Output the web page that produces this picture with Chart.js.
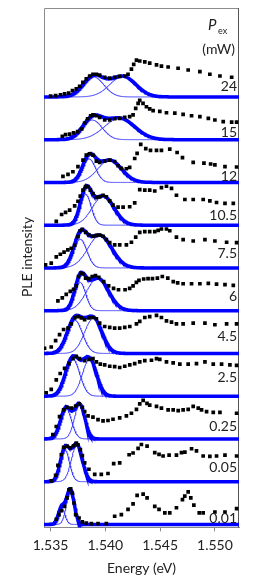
<!DOCTYPE html>
<html>
<head>
<meta charset="utf-8">
<script src="https://cdn.jsdelivr.net/npm/chart.js@4.4.1/dist/chart.umd.min.js"></script>
<style>
  html, body { margin: 0; padding: 0; background: #fff; }
  #wrap { width: 273px; height: 584px; }
</style>
</head>
<body>
<div id="wrap"><canvas id="pleChart" width="273" height="584"></canvas></div>
<script>
// excitation powers (mW), top panel first
const powers = ['24', '15', '12', '10.5', '7.5', '6', '4.5', '2.5', '0.25', '0.05', '0.01'];
const energyTicks = [1.535, 1.540, 1.545, 1.550];

// measured PLE spectra, one pair of arrays per panel (energy in eV, normalised intensity)
const p24Energy = [1.5350, 1.53546, 1.53591, 1.53628, 1.53665, 1.5370, 1.53735, 1.53765, 1.53795, 1.53826, 1.53857, 1.53887, 1.53918, 1.53948, 1.53994, 1.5404, 1.54085, 1.54131, 1.54177, 1.54207, 1.54238, 1.54259, 1.54284, 1.54314, 1.5436, 1.54405, 1.54467, 1.54512, 1.54573, 1.54664, 1.54756, 1.54863, 1.54954, 1.55046, 1.55153];
const p24Ple = [0.02, 0.03, 0.05, 0.07, 0.09, 0.15, 0.19, 0.25, 0.34, 0.42, 0.49, 0.53, 0.53, 0.51, 0.46, 0.44, 0.46, 0.48, 0.49, 0.53, 0.65, 0.76, 0.86, 0.84, 0.82, 0.79, 0.75, 0.72, 0.70, 0.67, 0.63, 0.59, 0.53, 0.49, 0.46];

const p15Energy = [1.53607, 1.53637, 1.53674, 1.5371, 1.53747, 1.53784, 1.53811, 1.53838, 1.53866, 1.53887, 1.53918, 1.53948, 1.53994, 1.5404, 1.54085, 1.54131, 1.54177, 1.54222, 1.54253, 1.54277, 1.54299, 1.54314, 1.54344, 1.54375, 1.54405, 1.54436, 1.54497, 1.54558, 1.54634, 1.5471, 1.54787, 1.54863, 1.5494, 1.55, 1.55076, 1.55153, 1.55198];
const p15Ple = [0.08, 0.12, 0.13, 0.16, 0.19, 0.25, 0.39, 0.49, 0.56, 0.58, 0.56, 0.52, 0.46, 0.46, 0.49, 0.50, 0.52, 0.54, 0.58, 0.73, 0.85, 0.92, 0.85, 0.77, 0.72, 0.68, 0.66, 0.63, 0.62, 0.59, 0.56, 0.54, 0.50, 0.46, 0.42, 0.41, 0.41];

const p12Energy = [1.53613, 1.53659, 1.53704, 1.5375, 1.53796, 1.53826, 1.53857, 1.53887, 1.53918, 1.53948, 1.53994, 1.5404, 1.54085, 1.54116, 1.54146, 1.54192, 1.54222, 1.54268, 1.5429, 1.54323, 1.54369, 1.54412, 1.54467, 1.54512, 1.54588, 1.54655, 1.54704, 1.54802, 1.549, 1.54961, 1.55, 1.55092, 1.55198];
const p12Ple = [0.14, 0.19, 0.25, 0.37, 0.52, 0.64, 0.67, 0.64, 0.50, 0.47, 0.50, 0.52, 0.49, 0.39, 0.33, 0.32, 0.35, 0.56, 0.68, 0.89, 0.79, 0.75, 0.75, 0.75, 0.78, 0.70, 0.58, 0.47, 0.45, 0.43, 0.41, 0.37, 0.36];

const p105Energy = [1.53552, 1.53601, 1.53637, 1.53674, 1.5372, 1.5375, 1.53771, 1.53796, 1.5382, 1.53841, 1.53863, 1.53887, 1.53918, 1.53948, 1.53979, 1.54009, 1.5404, 1.5407, 1.54116, 1.54162, 1.54222, 1.54268, 1.54314, 1.5436, 1.54405, 1.54451, 1.54512, 1.54558, 1.54604, 1.54649, 1.54726, 1.54802, 1.54893, 1.54954, 1.55015, 1.55092, 1.55168];
const p105Ple = [0.09, 0.25, 0.30, 0.35, 0.45, 0.56, 0.68, 0.82, 0.90, 0.90, 0.82, 0.74, 0.65, 0.66, 0.70, 0.66, 0.57, 0.47, 0.42, 0.42, 0.43, 0.52, 0.83, 0.82, 0.82, 0.80, 0.88, 0.91, 0.86, 0.70, 0.60, 0.60, 0.60, 0.57, 0.53, 0.51, 0.51];

const p75Energy = [1.53454, 1.53506, 1.53552, 1.53589, 1.53623, 1.53658, 1.53689, 1.5372, 1.5375, 1.53771, 1.5379, 1.5382, 1.5385, 1.53887, 1.53918, 1.53948, 1.53979, 1.54009, 1.5404, 1.54085, 1.54131, 1.54192, 1.54238, 1.54277, 1.54314, 1.5436, 1.54405, 1.54451, 1.54482, 1.54512, 1.54558, 1.54588, 1.54649, 1.5471, 1.54802, 1.54909, 1.55, 1.55107, 1.55198];
const p75Ple = [0.07, 0.11, 0.26, 0.32, 0.37, 0.42, 0.46, 0.53, 0.73, 0.87, 0.90, 0.83, 0.77, 0.74, 0.76, 0.77, 0.74, 0.66, 0.59, 0.54, 0.54, 0.54, 0.60, 0.72, 0.83, 0.85, 0.85, 0.85, 0.88, 0.91, 0.91, 0.87, 0.72, 0.66, 0.63, 0.66, 0.63, 0.60, 0.59];

const p6Energy = [1.53567, 1.53607, 1.53643, 1.5368, 1.5371, 1.53735, 1.53755, 1.53775, 1.53795, 1.5382, 1.5385, 1.5388, 1.5391, 1.5394, 1.53985, 1.5403, 1.54075, 1.5412, 1.5418, 1.54222, 1.54253, 1.54283, 1.54307, 1.5435, 1.5439, 1.5443, 1.54475, 1.5452, 1.5457, 1.5462, 1.5466, 1.5471, 1.54787, 1.54863, 1.5494, 1.55015, 1.55092, 1.55168];
const p6Ple = [0.23, 0.30, 0.38, 0.45, 0.50, 0.58, 0.80, 0.88, 0.86, 0.76, 0.75, 0.80, 0.82, 0.78, 0.68, 0.58, 0.52, 0.49, 0.49, 0.52, 0.58, 0.66, 0.71, 0.74, 0.75, 0.75, 0.76, 0.80, 0.76, 0.68, 0.65, 0.63, 0.63, 0.63, 0.64, 0.62, 0.61, 0.59];

const p45Energy = [1.53445, 1.53506, 1.53546, 1.53582, 1.53619, 1.53659, 1.53689, 1.5372, 1.5375, 1.53781, 1.53811, 1.53851, 1.53887, 1.53918, 1.53948, 1.53994, 1.5404, 1.54085, 1.54131, 1.54177, 1.54223, 1.54284, 1.54314, 1.5436, 1.54405, 1.54467, 1.54512, 1.54558, 1.54604, 1.54649, 1.5471, 1.54802, 1.54909, 1.55, 1.55107, 1.55198];
const p45Ple = [0.12, 0.15, 0.30, 0.44, 0.56, 0.59, 0.69, 0.83, 0.86, 0.83, 0.79, 0.83, 0.84, 0.81, 0.71, 0.63, 0.61, 0.59, 0.59, 0.61, 0.63, 0.69, 0.75, 0.84, 0.86, 0.89, 0.84, 0.76, 0.73, 0.69, 0.69, 0.71, 0.71, 0.67, 0.69, 0.69];

const p25Energy = [1.5346, 1.53506, 1.53552, 1.53588, 1.53628, 1.53668, 1.53704, 1.53735, 1.53765, 1.53811, 1.53851, 1.53887, 1.53918, 1.53954, 1.53994, 1.5404, 1.54085, 1.54131, 1.54177, 1.54223, 1.54268, 1.54314, 1.5436, 1.54421, 1.54467, 1.54497, 1.54558, 1.54619, 1.5468, 1.54756, 1.54832, 1.54909, 1.54985, 1.55061, 1.55137, 1.55198];
const p25Ple = [0.08, 0.16, 0.38, 0.53, 0.65, 0.76, 0.88, 0.93, 0.88, 0.83, 0.86, 0.88, 0.80, 0.75, 0.73, 0.70, 0.69, 0.67, 0.70, 0.73, 0.76, 0.80, 0.83, 0.84, 0.88, 0.86, 0.80, 0.78, 0.75, 0.75, 0.76, 0.80, 0.75, 0.75, 0.73, 0.72];

const p025Energy = [1.53521, 1.53552, 1.53582, 1.53619, 1.5365, 1.53689, 1.53729, 1.5376, 1.5379, 1.53811, 1.53842, 1.53887, 1.53933, 1.53979, 1.54024, 1.5407, 1.54131, 1.54192, 1.54238, 1.54284, 1.54314, 1.54345, 1.5438, 1.54405, 1.54467, 1.54512, 1.54573, 1.54619, 1.54665, 1.5471, 1.54756, 1.54802, 1.54848, 1.54878, 1.54924, 1.54985, 1.55046, 1.55198];
const p025Ple = [0.10, 0.29, 0.52, 0.68, 0.74, 0.72, 0.77, 0.82, 0.74, 0.64, 0.54, 0.51, 0.45, 0.42, 0.43, 0.46, 0.49, 0.54, 0.60, 0.69, 0.82, 0.90, 0.83, 0.79, 0.76, 0.72, 0.68, 0.68, 0.66, 0.68, 0.69, 0.76, 0.72, 0.68, 0.64, 0.62, 0.62, 0.60];

const p005Energy = [1.53506, 1.53546, 1.53567, 1.53598, 1.53619, 1.5365, 1.5368, 1.5371, 1.53735, 1.5375, 1.53772, 1.5379, 1.53811, 1.5385, 1.53903, 1.53963, 1.54024, 1.54076, 1.54131, 1.54217, 1.54253, 1.54299, 1.54329, 1.54381, 1.54451, 1.5449, 1.54527, 1.54582, 1.54649, 1.54695, 1.54726, 1.54787, 1.54832, 1.54893, 1.54954, 1.55015, 1.55092, 1.55198];
const p005Ple = [0.02, 0.15, 0.38, 0.63, 0.80, 0.83, 0.79, 0.84, 0.90, 0.86, 0.75, 0.61, 0.44, 0.29, 0.17, 0.17, 0.19, 0.42, 0.44, 0.63, 0.67, 0.78, 0.87, 0.83, 0.68, 0.64, 0.60, 0.62, 0.62, 0.68, 0.69, 0.77, 0.72, 0.60, 0.59, 0.60, 0.62, 0.60];

const p001Energy = [1.53552, 1.53576, 1.53598, 1.53628, 1.5365, 1.53668, 1.53683, 1.53698, 1.53714, 1.53729, 1.5376, 1.5379, 1.53826, 1.53872, 1.53933, 1.54009, 1.54085, 1.54146, 1.54207, 1.54253, 1.5429, 1.54345, 1.54381, 1.54451, 1.5449, 1.54543, 1.54588, 1.54649, 1.54704, 1.54725, 1.54756, 1.5478, 1.54808, 1.54857, 1.54893, 1.5500, 1.55092, 1.55198];
const p001Ple = [0.12, 0.23, 0.32, 0.42, 0.62, 0.81, 0.83, 0.73, 0.50, 0.23, 0.15, 0.06, 0.03, 0.02, 0.02, 0.02, 0.19, 0.23, 0.35, 0.48, 0.68, 0.71, 0.62, 0.42, 0.35, 0.27, 0.27, 0.39, 0.58, 0.66, 0.76, 0.62, 0.45, 0.27, 0.27, 0.29, 0.29, 0.37];

// two-gaussian fit per panel (same order as powers): centre (eV), sigma (eV), height
const fit1Center = [1.5389, 1.5388, 1.5385, 1.5382, 1.5377, 1.5377, 1.5372, 1.5370, 1.5364, 1.5363, 1.5360];
const fit1Sigma = [0.00095, 0.0009, 0.0006, 0.0005, 0.0006, 0.0005, 0.0007, 0.00065, 0.0005, 0.00042, 0.0003];
const fit1Height = [0.47, 0.46, 0.55, 0.72, 0.67, 0.66, 0.78, 0.88, 0.72, 0.75, 0.38];
const fit2Center = [1.5416, 1.5413, 1.5404, 1.5398, 1.5395, 1.5393, 1.5389, 1.53855, 1.53765, 1.5374, 1.5368];
const fit2Sigma = [0.0012, 0.0014, 0.0011, 0.0010, 0.0011, 0.0010, 0.0008, 0.00065, 0.00048, 0.0005, 0.00035];
const fit2Height = [0.48, 0.50, 0.52, 0.68, 0.76, 0.76, 0.82, 0.86, 0.80, 0.86, 0.82];

// ---- layout (not data) ----
const xMin = 1.5344, xMax = 1.5522;
const labelRaise = [10, 7, 6, 10, 14, 14, 17, 19, 12, 14, 6]; // px above baseline
const FONT = 'Lato, "Open Sans", sans-serif';

const measured = [
    [p24Energy, p24Ple], [p15Energy, p15Ple], [p12Energy, p12Ple], [p105Energy, p105Ple],
    [p75Energy, p75Ple], [p6Energy, p6Ple], [p45Energy, p45Ple], [p25Energy, p25Ple],
    [p025Energy, p025Ple], [p005Energy, p005Ple], [p001Energy, p001Ple]
];

function gauss(e, c, s, a) {
    return a * Math.exp(-0.5 * Math.pow((e - c) / s, 2));
}

// energies at which the fit curves are evaluated
const fitGrid = [];
for (let e = xMin; e <= xMax + 1e-9; e += 0.00004) fitGrid.push(e);

const datasets = [];
powers.forEach((p, k) => {
    const base = powers.length - 1 - k; // vertical offset of this panel

    const comp1 = fitGrid.map(e => ({ x: e, y: base + gauss(e, fit1Center[k], fit1Sigma[k], fit1Height[k]) }));
    const comp2 = fitGrid.map(e => ({ x: e, y: base + gauss(e, fit2Center[k], fit2Sigma[k], fit2Height[k]) }));
    const total = fitGrid.map((e, i) => ({ x: e, y: comp1[i].y + comp2[i].y - base }));

    [comp1, comp2].forEach(d => datasets.push({
        data: d, borderColor: '#3a3aff', borderWidth: 1, pointRadius: 0, fill: false, order: 3
    }));
    datasets.push({
        data: total, borderColor: '#0000ff', borderWidth: 3.5, pointRadius: 0, fill: false, order: 2
    });

    const [en, pl] = measured[k];
    datasets.push({
        data: en.map((e, i) => ({ x: e, y: base + pl[i] })),
        showLine: false, pointStyle: 'rect', pointRadius: 2.6,
        pointBackgroundColor: '#000', pointBorderWidth: 0, order: 1
    });
});

// frame + panel labels + axis title on the left
const decorations = {
    id: 'decorations',
    beforeDatasetsDraw(chart) {
        const { ctx, chartArea: a } = chart;
        ctx.save();
        ctx.lineWidth = 1;
        ctx.strokeStyle = '#8c8c8c';
        ctx.beginPath();
        ctx.moveTo(a.left + 0.5, a.bottom);
        ctx.lineTo(a.left + 0.5, a.top + 0.5);
        ctx.lineTo(a.right, a.top + 0.5);
        ctx.stroke();
        ctx.strokeStyle = '#555';
        ctx.beginPath();
        ctx.moveTo(a.right - 0.5, a.top);
        ctx.lineTo(a.right - 0.5, a.bottom);
        ctx.stroke();
        ctx.restore();
    },
    afterDraw(chart) {
        const { ctx, chartArea: a, scales: { y } } = chart;
        ctx.save();
        ctx.fillStyle = '#222';
        ctx.textAlign = 'right';
        ctx.textBaseline = 'middle';
        ctx.font = '14px ' + FONT;
        powers.forEach((p, k) => {
            const yb = y.getPixelForValue(powers.length - 1 - k);
            ctx.fillText(p, a.right - 2, yb - labelRaise[k]);
        });

        // P_ex (mW)
        ctx.textAlign = 'left';
        ctx.font = 'italic 15px ' + FONT;
        ctx.fillText('P', 208, 25);
        ctx.font = '9px ' + FONT;
        ctx.fillText('ex', 218, 31);
        ctx.textAlign = 'right';
        ctx.font = '14px ' + FONT;
        ctx.fillText('(mW)', 235, 49);

        // y title
        ctx.translate(27, 257);
        ctx.rotate(-Math.PI / 2);
        ctx.textAlign = 'center';
        ctx.font = '14px ' + FONT;
        ctx.fillText('PLE intensity', 0, 0);
        ctx.restore();
    }
};

const ctx = document.getElementById('pleChart').getContext('2d');
new Chart(ctx, {
    type: 'line',
    data: { datasets },
    options: {
        responsive: false,
        animation: false,
        devicePixelRatio: 1,
        layout: { padding: { left: 44, right: 34, top: 8, bottom: 7 } },
        plugins: { legend: { display: false }, tooltip: { enabled: false } },
        elements: { line: { tension: 0 } },
        scales: {
            x: {
                type: 'linear',
                min: xMin,
                max: xMax,
                afterBuildTicks: s => { s.ticks = energyTicks.map(v => ({ value: v })); },
                afterFit: s => { s.paddingLeft = 0; s.paddingRight = 0; },
                ticks: {
                    autoSkip: false, maxRotation: 0, padding: 6,
                    color: '#222', font: { family: FONT, size: 14 },
                    callback: v => v.toFixed(3)
                },
                grid: { drawOnChartArea: false, drawTicks: true, tickLength: 4, color: '#888' },
                border: { color: '#888', width: 1 },
                title: {
                    display: true, text: 'Energy (eV)', color: '#222',
                    font: { family: FONT, size: 14 }, padding: { top: 0, bottom: 0 }
                }
            },
            y: { display: false, min: -0.07, max: 12.08 }
        }
    },
    plugins: [decorations]
});
</script>
</body>
</html>
